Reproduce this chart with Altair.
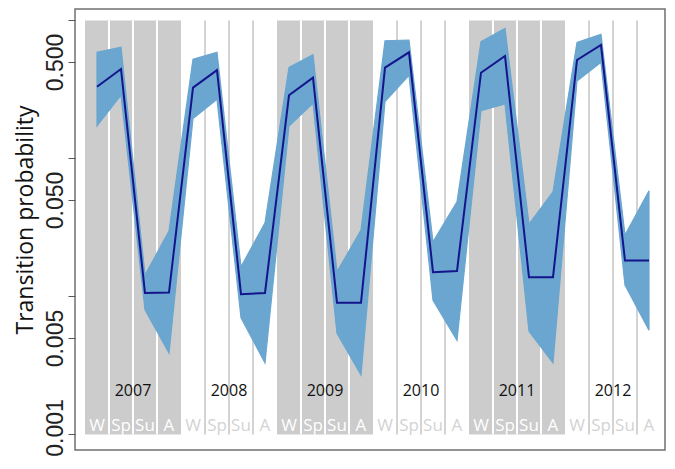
import altair as alt
import pandas as pd

years = [2007, 2008, 2009, 2010, 2011, 2012]
seasons = ["W", "Sp", "Su", "A"]
shaded_years = [2007, 2009, 2011]

mean = [0.331, 0.445, 0.0106, 0.0107,
        0.326, 0.437, 0.0104, 0.0106,
        0.287, 0.385, 0.0090, 0.0090,
        0.455, 0.588, 0.0150, 0.0153,
        0.418, 0.553, 0.0138, 0.0138,
        0.517, 0.664, 0.0182, 0.0182]
upper = [0.588, 0.639, 0.0143, 0.0298,
         0.523, 0.588, 0.0164, 0.0342,
         0.458, 0.565, 0.0151, 0.0303,
         0.713, 0.722, 0.0249, 0.0486,
         0.702, 0.877, 0.0335, 0.0574,
         0.694, 0.794, 0.0279, 0.0584]
lower = [0.172, 0.288, 0.0080, 0.0039,
         0.195, 0.268, 0.0070, 0.0033,
         0.172, 0.251, 0.0054, 0.0027,
         0.258, 0.400, 0.0094, 0.0048,
         0.222, 0.248, 0.0056, 0.0033,
         0.364, 0.497, 0.0121, 0.0057]

rows = []
for yi, yr in enumerate(years):
    for si, s in enumerate(seasons):
        i = yi * 4 + si
        rows.append(dict(idx=i, bnd=i - 0.5, year=yr, season=s,
                         mean=mean[i], lower=lower[i], upper=upper[i],
                         tone="g" if yr in shaded_years else "w",
                         top=1.0, bottom=0.001))
df = pd.DataFrame(rows)

ydf = pd.DataFrame([dict(year=str(yr), start=yi * 4 - 0.5, end=yi * 4 + 3.5,
                         mid=yi * 4 + 1.5, top=1.0, bottom=0.001,
                         tone="g" if yr in shaded_years else "w")
                    for yi, yr in enumerate(years)])

xs = alt.Scale(domain=[-0.9167, 23.667], nice=False, zero=False)
ys = alt.Scale(type="log", domain=[0.000772, 1.211], nice=False)

yaxis = alt.Axis(
    values=[1, 0.5, 0.1, 0.05, 0.01, 0.005, 0.001],
    labelExpr="indexof([0.5,0.05,0.005,0.001], datum.value) >= 0 ? format(datum.value, '.3f') : ''",
    labelAngle=270, labelAlign="center", labelBaseline="alphabetic",
    labelPadding=6, labelFont="Liberation Sans", labelFontSize=23,
    labelOffset={"condition": {"test": "datum.value < 0.002", "value": -7}, "value": 0},
    labelColor="#222222", labelFlush=False, labelOverlap=False,
    tickSize=7, tickColor="#555555", tickWidth=1, domain=False, grid=False,
    title="Transition probability", titleFont="Open Sans", titleFontSize=23,
    titleFontWeight="normal", titleColor="#111111", titleAngle=270,
    titleX=-50, titleY=210.5, titleAlign="center", titleBaseline="middle",
)

tone_line = alt.Scale(domain=["g", "w"], range=["#ffffff", "#d3d3d3"])
tone_text = alt.Scale(domain=["g", "w"], range=["#ffffff", "#c4c4c4"])

bg = alt.Chart(ydf).transform_filter(alt.datum.tone == "g").mark_rect(color="#cccccc").encode(
    x=alt.X("start:Q", scale=xs, axis=None), x2="end:Q",
    y=alt.Y("top:Q", scale=ys, axis=yaxis), y2="bottom:Q",
)

seps = alt.Chart(df).transform_filter(alt.datum.season != "W").mark_rule(strokeWidth=2).encode(
    x=alt.X("bnd:Q", scale=xs, axis=None),
    y=alt.Y("top:Q", scale=ys, axis=yaxis), y2="bottom:Q",
    color=alt.Color("tone:N", scale=tone_line, legend=None),
)

band = alt.Chart(df).mark_area(fill="#6aa6d0", stroke="#6aa6d0", strokeWidth=1.2, opacity=1).encode(
    x=alt.X("idx:Q", scale=xs, axis=None),
    y=alt.Y("lower:Q", scale=ys, axis=yaxis), y2="upper:Q",
)

line = alt.Chart(df).mark_line(color="#14148c", strokeWidth=2).encode(
    x=alt.X("idx:Q", scale=xs, axis=None),
    y=alt.Y("mean:Q", scale=ys, axis=yaxis),
)

year_txt = alt.Chart(ydf).mark_text(font="Open Sans", fontSize=16, color="#111111", baseline="middle").encode(
    x=alt.X("mid:Q", scale=xs, axis=None), y=alt.value(382), text="year:N",
)

season_txt = alt.Chart(df).mark_text(font="Open Sans", fontSize=17, baseline="middle").encode(
    x=alt.X("idx:Q", scale=xs, axis=None), y=alt.value(416.5), text="season:N",
    color=alt.Color("tone:N", scale=tone_text, legend=None),
)

chart = alt.layer(bg, seps, band, line, year_txt, season_txt).properties(
    width=590, height=441,
    autosize=alt.AutoSizeParams(type="none"),
    padding={"left": 67, "top": 1, "right": 2, "bottom": 6},
).configure_view(stroke="#707070", strokeWidth=1.5)

chart.save("out.html", embed_options={"renderer": "svg", "actions": False})
